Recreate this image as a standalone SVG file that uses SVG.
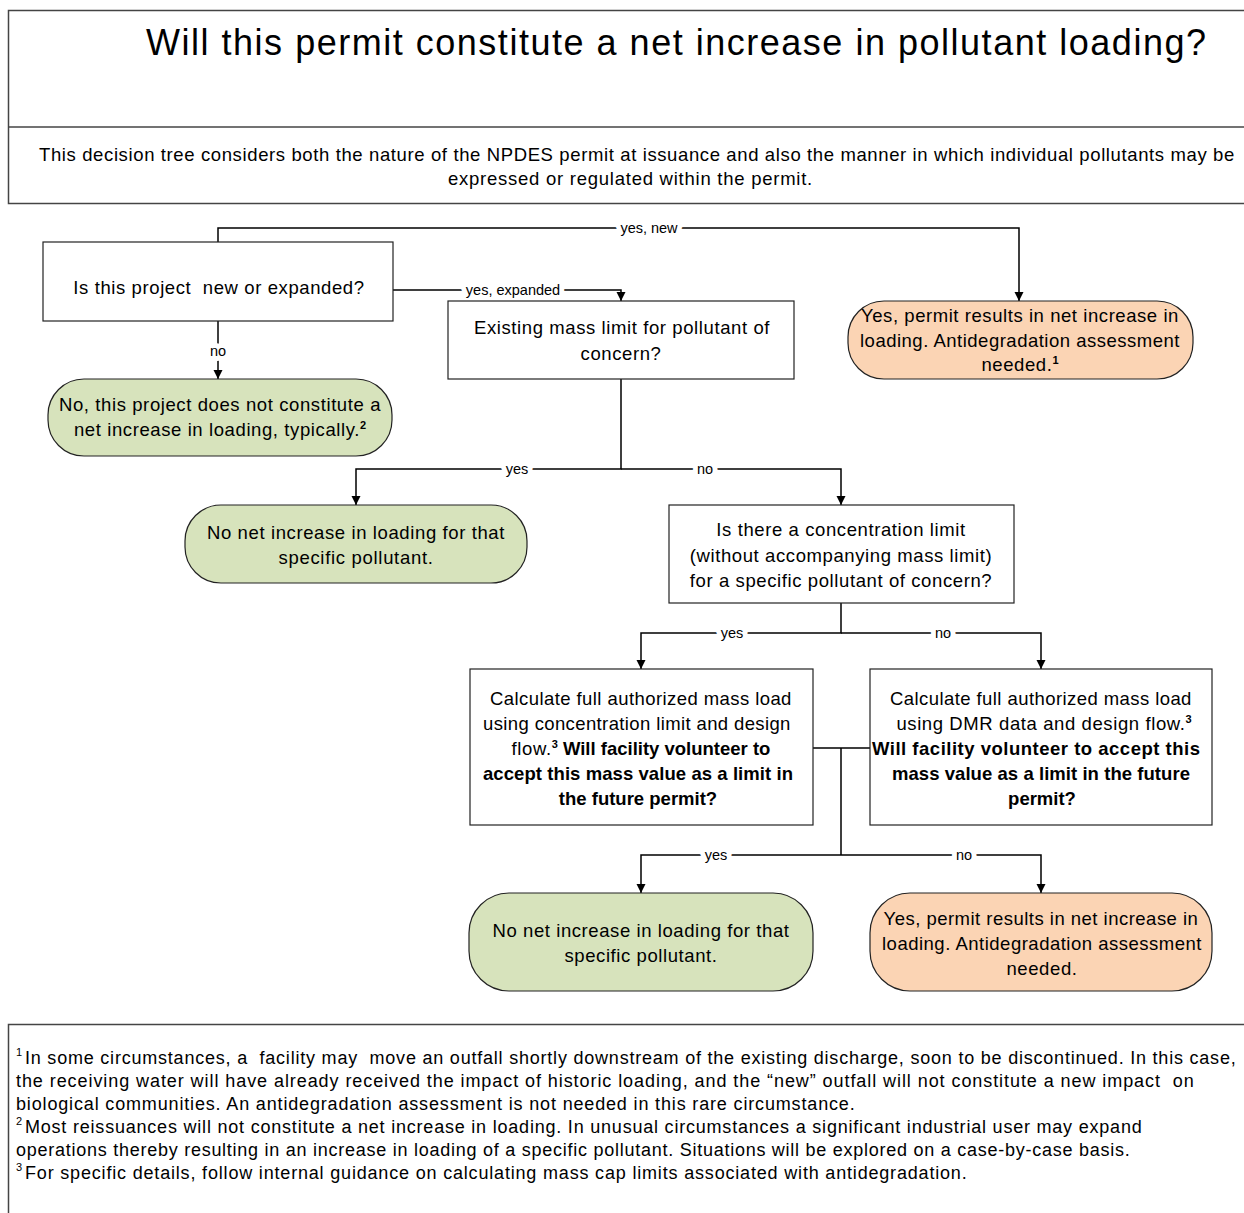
<svg xmlns="http://www.w3.org/2000/svg" width="1244" height="1213" viewBox="0 0 1244 1213">
<defs>
<marker id="arr" viewBox="0 0 10 10" refX="10" refY="5" markerWidth="9" markerHeight="10" markerUnits="userSpaceOnUse" orient="auto">
<path d="M0,0 L10,5 L0,10 z" fill="#000"/>
</marker>
<style>
text{font-family:"Liberation Sans",Arial,sans-serif;fill:#000}
.ttl{font-size:36px}
.sub{font-size:18.5px;letter-spacing:0.75px}
.nt{font-size:18.5px;letter-spacing:0.6px;text-anchor:middle}
.b{font-weight:bold;letter-spacing:0px}
.sup{font-size:11px;font-weight:bold;letter-spacing:0px}
.fn{font-size:18px;letter-spacing:0.3px}
.fs{font-size:11px}
.lbl{font-size:14.5px;text-anchor:middle;paint-order:stroke;stroke:#fff;stroke-width:10px;stroke-linejoin:round}
.box{fill:#fff;stroke:#222;stroke-width:1.2}
.green{fill:#D7E3BC;stroke:#222;stroke-width:1.2}
.orange{fill:#FBD4B4;stroke:#222;stroke-width:1.2}
.frame{fill:#fff;stroke:#444;stroke-width:1.5}
.con{fill:none;stroke:#000;stroke-width:1.5}
</style>
</defs>
<rect width="1244" height="1213" fill="#fff"/>

<g id="header">
<rect class="frame" x="8.5" y="10.5" width="1245" height="193"/>
<line x1="8.5" y1="127" x2="1244" y2="127" stroke="#444" stroke-width="1.5"/>
<text class="ttl" x="146" y="55" textLength="1060">Will this permit constitute a net increase in pollutant loading?</text>
<text class="sub" x="39" y="161" textLength="1196">This decision tree considers both the nature of the NPDES permit at issuance and also the manner in which individual pollutants may be</text>
<text class="sub" x="448" y="185">expressed or regulated within the permit.</text>
</g>

<g id="connectors">
<path class="con" d="M218 242 V228 H1019 V301" marker-end="url(#arr)"/>
<path class="con" d="M393 290 H621 V301" marker-end="url(#arr)"/>
<path class="con" d="M218 321 V379" marker-end="url(#arr)"/>
<path class="con" d="M621 379 V469 H356 V505" marker-end="url(#arr)"/>
<path class="con" d="M621 469 H841 V505" marker-end="url(#arr)"/>
<path class="con" d="M841 603 V633 H641 V669" marker-end="url(#arr)"/>
<path class="con" d="M841 633 H1041 V669" marker-end="url(#arr)"/>
<path class="con" d="M813 748 H870 M841 748 V855"/>
<path class="con" d="M841 855 H641 V893" marker-end="url(#arr)"/>
<path class="con" d="M841 855 H1041 V893" marker-end="url(#arr)"/>
<text class="lbl" x="649" y="233">yes, new</text>
<text class="lbl" x="513" y="295">yes, expanded</text>
<text class="lbl" x="218" y="356">no</text>
<text class="lbl" x="517" y="474">yes</text>
<text class="lbl" x="705" y="474">no</text>
<text class="lbl" x="732" y="638">yes</text>
<text class="lbl" x="943" y="638">no</text>
<text class="lbl" x="716" y="860">yes</text>
<text class="lbl" x="964" y="860">no</text>
</g>

<g id="q1">
<rect class="box" x="43" y="242" width="350" height="79"/>
<text class="nt" x="219" y="294" style="white-space:pre">Is this project  new or expanded?</text>
</g>

<g id="q2">
<rect class="box" x="448" y="301" width="346" height="78"/>
<text class="nt" x="622" y="334">Existing mass limit for pollutant of</text>
<text class="nt" x="621" y="360">concern?</text>
</g>

<g id="r-new">
<rect class="orange" x="848" y="301" width="345" height="78" rx="36"/>
<text class="nt" x="1020" y="322" textLength="318">Yes, permit results in net increase in</text>
<text class="nt" x="1020" y="347" textLength="320">loading. Antidegradation assessment</text>
<text class="nt" x="1020" y="371">needed.<tspan class="sup" dy="-7">1</tspan></text>
</g>

<g id="r-no1">
<rect class="green" x="48" y="379" width="344" height="77" rx="36"/>
<text class="nt" x="220" y="411">No, this project does not constitute a</text>
<text class="nt" x="220" y="436">net increase in loading, typically.<tspan class="sup" dy="-7">2</tspan></text>
</g>

<g id="r-no2">
<rect class="green" x="185" y="505" width="342" height="78" rx="36"/>
<text class="nt" x="356" y="539" textLength="298">No net increase in loading for that</text>
<text class="nt" x="356" y="564" textLength="155">specific pollutant.</text>
</g>

<g id="q3">
<rect class="box" x="669" y="505" width="345" height="98"/>
<text class="nt" x="841" y="536">Is there a concentration limit</text>
<text class="nt" x="841" y="562">(without accompanying mass limit)</text>
<text class="nt" x="841" y="587">for a specific pollutant of concern?</text>
</g>

<g id="q4">
<rect class="box" x="470" y="669" width="343" height="156"/>
<text class="nt" x="641" y="705" textLength="302">Calculate full authorized mass load</text>
<text class="nt" x="637" y="730" textLength="308">using concentration limit and design</text>
<text class="nt" x="641" y="755">flow.<tspan class="sup" dy="-7">3</tspan><tspan class="b" dy="7"> Will facility volunteer to</tspan></text>
<text class="nt b" x="638" y="780" textLength="310">accept this mass value as a limit in</text>
<text class="nt b" x="638" y="805">the future permit?</text>
</g>

<g id="q5">
<rect class="box" x="870" y="669" width="342" height="156"/>
<text class="nt" x="1041" y="705" textLength="302">Calculate full authorized mass load</text>
<text class="nt" x="1044" y="730">using DMR data and design flow.<tspan class="sup" dy="-7">3</tspan></text>
<text class="nt b" x="1036" y="755" textLength="328">Will facility volunteer to accept this</text>
<text class="nt b" x="1041" y="780" textLength="298">mass value as a limit in the future</text>
<text class="nt b" x="1042" y="805">permit?</text>
</g>

<g id="r-no3">
<rect class="green" x="469" y="893" width="344" height="98" rx="40"/>
<text class="nt" x="641" y="937" textLength="297">No net increase in loading for that</text>
<text class="nt" x="641" y="962" textLength="153">specific pollutant.</text>
</g>

<g id="r-yes2">
<rect class="orange" x="870" y="893" width="342" height="98" rx="40"/>
<text class="nt" x="1041" y="925" textLength="315">Yes, permit results in net increase in</text>
<text class="nt" x="1042" y="950" textLength="320">loading. Antidegradation assessment</text>
<text class="nt" x="1042" y="975">needed.</text>
</g>

<g id="footnotes">
<rect class="frame" x="8.5" y="1024.5" width="1245" height="220"/>
<text class="fs" x="16" y="1056">1</text>
<text class="fn" x="25" y="1064" textLength="1211" style="white-space:pre">In some circumstances, a  facility may  move an outfall shortly downstream of the existing discharge, soon to be discontinued. In this case,</text>
<text class="fn" x="16" y="1087" textLength="1178" style="white-space:pre">the receiving water will have already received the impact of historic loading, and the “new” outfall will not constitute a new impact  on</text>
<text class="fn" x="16" y="1110" textLength="839">biological communities. An antidegradation assessment is not needed in this rare circumstance.</text>
<text class="fs" x="16" y="1125">2</text>
<text class="fn" x="25" y="1133" textLength="1117">Most reissuances will not constitute a net increase in loading. In unusual circumstances a significant industrial user may expand</text>
<text class="fn" x="16" y="1156" textLength="1114">operations thereby resulting in an increase in loading of a specific pollutant. Situations will be explored on a case-by-case basis.</text>
<text class="fs" x="16" y="1171">3</text>
<text class="fn" x="25" y="1179" textLength="942">For specific details, follow internal guidance on calculating mass cap limits associated with antidegradation.</text>
</g>
</svg>
